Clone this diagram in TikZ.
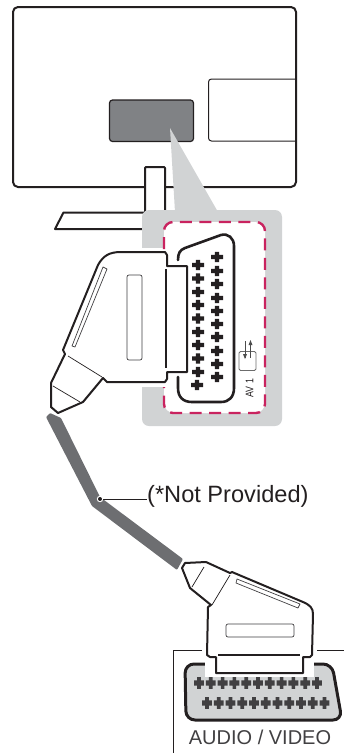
\documentclass[tikz,border=0pt]{standalone}
\usepackage{fontspec}
\setmainfont{Liberation Sans}
\usepackage{xcolor}
\definecolor{panelgray}{HTML}{D1D3D4}
\definecolor{boxgray}{HTML}{808285}
\definecolor{cablegray}{HTML}{6D6E71}
\definecolor{inkblack}{HTML}{231F20}
\definecolor{pingray}{HTML}{414042}
\definecolor{dashpink}{HTML}{C9235F}
\tikzset{
	outline/.style={draw=inkblack, line width=2pt, line join=round},
	thinline/.style={draw=inkblack, line width=0.7pt},
	label/.style={inner sep=0pt, text=inkblack},
	pinblack/.style={fill=inkblack},
	pindark/.style={fill=pingray, xscale=0.82, yscale=1.15}
}
\newcommand{\pinplus}[3][pinblack]{%
	\fill[shift={(#2,#3)}, #1] (-6,-2.2) rectangle (6,2.2) (-2.2,-5.2) rectangle (2.2,5.2);}

\begin{document}
\begin{tikzpicture}[x=1pt,y=-1pt]
	\useasboundingbox (0,0) rectangle (344,753);

	% monitor
	\draw[outline, rounded corners=5pt] (13,7) rectangle (296,187);
	\draw[inkblack, line width=1pt, rounded corners=3pt] (296,79) -- (208.5,79) -- (208.5,141) -- (296,141);
	\draw[inkblack, fill=boxgray, line width=1.2pt, rounded corners=3pt] (109.5,100) rectangle (193.5,141.5);

	% stand
	\fill[white] (145,167) rectangle (165,212);
	\draw[outline, rounded corners=1pt] (145,212) -- (145,167) -- (165,167) -- (165,212);
	\draw[outline] (145,212.5) -- (63.5,212.5) -- (55,229) -- (145,229);

	% callout panel
	\fill[panelgray] (170,128) -- (175,212) -- (218,212) -- cycle;
	\fill[panelgray, rounded corners=7pt] (142,210) rectangle (282,426);
	\fill[white, rounded corners=10pt] (164,222) rectangle (265,413);
	\fill[white] (140,248) rectangle (168,387);
	\draw[dashpink, line width=2.4pt, rounded corners=9pt, dash pattern=on 12pt off 7.5pt] (164,249) -- (164,222) -- (265,222) -- (265,413) -- (164,413) -- (164,387);

	% port on the panel
	\draw[inkblack, line width=2.6pt, line cap=round] (178,260) .. controls (178,253) and (180,250) .. (185,248) -- (221,235) .. controls (228,233) and (234,238) .. (234,246) -- (234,388) .. controls (234,397) and (229,402) .. (221,402) -- (192,402) .. controls (183,402) and (178,397) .. (178,388) -- (178,377);
	\foreach \y in {265,278.5,292,305,318.5,332,345,358.5,372}
		\pinplus{198}{\y};
	\pinplus{197}{385};
	\foreach \y in {257,271,284,298,311,324,337,351,364,377}
		\pinplus{217}{\y};

	% AV icon
	\draw[gray!85!black, line width=0.8pt, rounded corners=1.5pt] (239,351.5) rectangle (256,370.5);
	\draw[gray!60!black, line width=0.7pt] (245,341) -- (245,358);
	\fill[gray!60!black] (245,359) -- (243,354) -- (247,354) -- cycle;
	\draw[gray!60!black, line width=0.7pt] (250.5,341) -- (250.5,358);
	\fill[gray!60!black] (250.5,340) -- (248.5,345) -- (252.5,345) -- cycle;
	\node[label, rotate=90, font=\fontsize{11}{11}\selectfont] (av) at (249.5,388) {\scalebox{0.8}[1]{AV 1}};

	% upper plug
	\draw[outline, fill=white] (165,252) -- (121,252) .. controls (109,252) and (103,256) .. (98,265) -- (63,350) -- (65,354) -- (51,383) -- (51,407) -- (58,413) -- (83,402) -- (103,378) -- (107,382) -- (165,382) -- (167,379) -- (167,372) -- (187,372) -- (187,266) -- (167,266) -- (167,255) -- cycle;
	\draw[outline] (166,269) -- (166,368);
	\draw[thinline] (68,356) -- (102,377);
	\draw[thinline] (53,386) -- (80,402);
	\draw[thinline, draw=pingray, rounded corners=2pt] (127,275) rectangle (142,360);
	\draw[thinline, draw=pingray, line join=round] (103,267) -- (107,269) -- (75,347) -- (72,346) -- cycle;

	% cable
	\fill[cablegray, rounded corners=1pt] (46,417) -- (50,413) -- (61,418) -- (100,497) -- (183,559) -- (177,570) -- (92,506) -- cycle;
	\coordinate (tap) at (100,499);
	\node[label, anchor=west, font=\fontsize{23.6}{24}\selectfont] (cablelabel) at (147,496.5) {(*Not Provided)};
	\draw[inkblack, line width=0.9pt] (tap) -- (cablelabel.west |- tap);
	\fill[white] (tap) circle (3.2pt);
	\fill[inkblack] (tap) circle (2pt);

	% audio video jack
	\draw[inkblack, line width=1pt] (202,650) -- (173,650) -- (173,753);
	\draw[inkblack, line width=1pt] (317,650) -- (344,650);
	\draw[inkblack, line width=3pt, fill=panelgray, rounded corners=9pt] (216,664) -- (185,664) -- (186,720) -- (342,720) -- (332,664) -- (303,664);
	\foreach \k in {0,...,10}
		\pinplus[pindark]{199+11.8*\k}{683};
	\foreach \k in {0,...,10}
		\pinplus[pindark]{207+11.75*\k}{703};
	\node[label, text=pingray, font=\fontsize{20}{20}\selectfont] (avlabel) at (260,737) {AUDIO / VIDEO};

	% lower plug
	\draw[white, line width=4pt, fill=white] (207,655) -- (207,675) -- (312,675) -- (312,655) -- cycle;
	\draw[outline, fill=white] (182,568) -- (185,563) -- (206,562) -- (230,573) -- (232,572) -- (303,602) .. controls (310,605) and (313,608) .. (313,614) -- (312,655) -- (310,657) -- (303,657) -- (303,673) -- (216,673) -- (216,657) -- (210,657) -- (207,655) -- (208,607) -- (211,605) -- (190,588) -- cycle;
	\draw[outline] (218,655) -- (300,655);
	\draw[thinline] (230,575) -- (212,605);
	\draw[thinline] (204,567) -- (192,587);
	\draw[thinline, draw=pingray, rounded corners=2pt] (226,624) rectangle (294,637);
	\draw[thinline, draw=pingray, line join=round] (237,579) -- (300,604) -- (298,608) -- (236,583) -- cycle;
\end{tikzpicture}
\end{document}
